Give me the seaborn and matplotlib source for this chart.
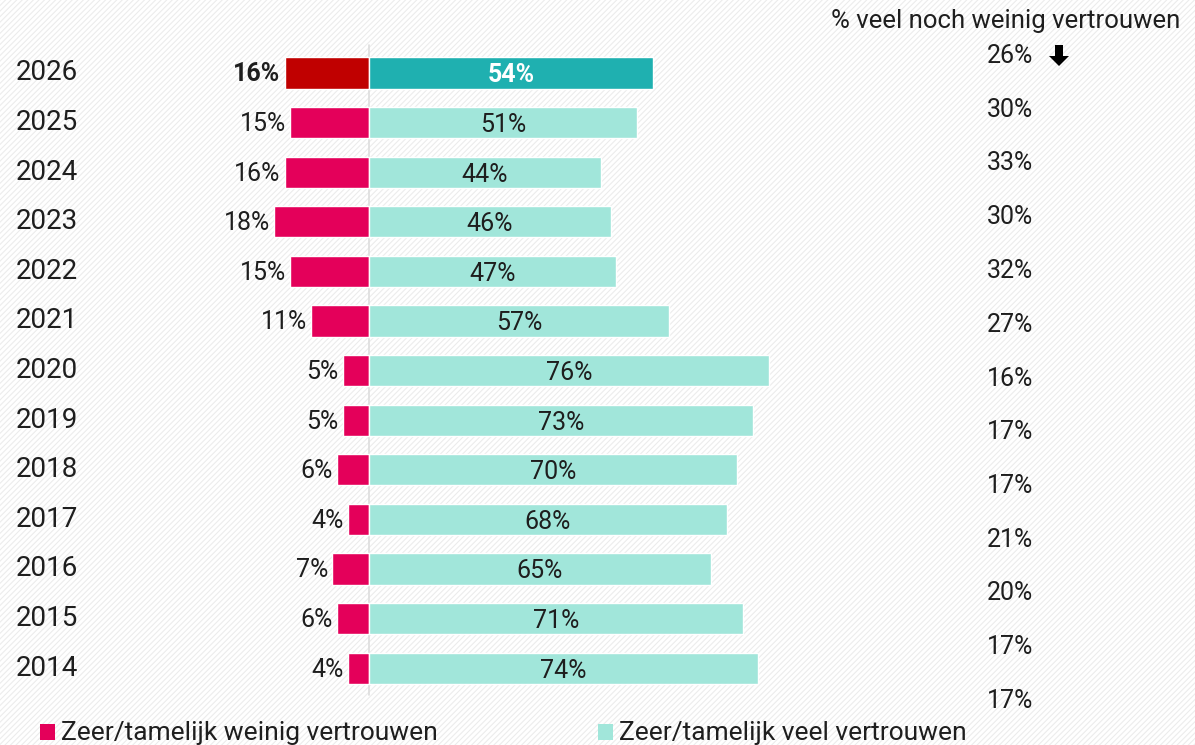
import matplotlib
matplotlib.use("Agg")
import matplotlib.pyplot as plt
import seaborn as sns
import pandas as pd
from matplotlib.patches import Rectangle, FancyArrow

# data
years = ["2026", "2025", "2024", "2023", "2022", "2021", "2020",
         "2019", "2018", "2017", "2016", "2015", "2014"]
weinig = [16, 15, 16, 18, 15, 11, 5, 5, 6, 4, 7, 6, 4]        # zeer/tamelijk weinig vertrouwen
veel = [54, 51, 44, 46, 47, 57, 76, 73, 70, 68, 65, 71, 74]     # zeer/tamelijk veel vertrouwen
neutraal = [26, 30, 33, 30, 32, 27, 16, 17, 17, 21, 20, 17, 17]  # veel noch weinig

RED, RED_HI = "#e4005a", "#c00000"
TEAL, TEAL_HI = "#a1e6da", "#1fb0b0"
TXT = "#1e1e1e"

sns.set_theme(style="white")
plt.rcParams["font.family"] = ["Roboto", "DejaVu Sans"]

df = pd.DataFrame({"year": years, "weinig": weinig, "veel": veel, "neutraal": neutraal})
df["neg"] = -df["weinig"]

W, H = 1195, 745
fig = plt.figure(figsize=(W / 100, H / 100), dpi=100)
fig.patch.set_facecolor("white")
# light diagonal hatch on the background
plt.rcParams["hatch.linewidth"] = 0.8
fig.patches.append(Rectangle((0, 0), 1, 1, transform=fig.transFigure, facecolor="white",
                             edgecolor="#ececec", hatch="//////", linewidth=0, zorder=-10))

ax = fig.add_axes([0, 0, 1, 1])
ax.patch.set_alpha(0)

px_per = 5.263   # pixels per percentage point
x0 = 369         # pixel of zero line
row0, row_h = 73, 49.6
ax.set_xlim(-x0 / px_per, (W - x0) / px_per)

red_pal = [RED_HI] + [RED] * (len(years) - 1)
teal_pal = [TEAL_HI] + [TEAL] * (len(years) - 1)
sns.barplot(data=df, x="neg", y="year", hue="year", palette=red_pal, orient="h",
            width=0.63, legend=False, ax=ax, saturation=1)
sns.barplot(data=df, x="veel", y="year", hue="year", palette=teal_pal, orient="h",
            width=0.63, legend=False, ax=ax, saturation=1)
ax.set_ylim((H - row0) / row_h, -row0 / row_h)

ax.axvline(0, ymin=1 - 695 / H, ymax=1 - 45 / H, color="#dddddd", lw=1.2, zorder=0)

for i, (y, w, v) in enumerate(zip(years, weinig, veel)):
    bold = i == 0
    ax.text(-w - 0.8, i + 0.03, f"{w}%", ha="right", va="center", fontsize=18,
            color=TXT, fontweight="bold" if bold else "normal")
    ax.text(v / 2, i + 0.05, f"{v}%", ha="center", va="center", fontsize=18,
            color="white" if bold else TXT, fontweight="bold" if bold else "normal")
    ax.text((47 - x0) / px_per, i, y, ha="center", va="center", fontsize=20, color=TXT)

# right-hand column: % veel noch weinig
fig.text(1180 / W, 1 - 21 / H, "% veel noch weinig vertrouwen", ha="right", va="center",
         fontsize=18.5, color=TXT)
for i, n in enumerate(neutraal):
    yp = 56 + 53.75 * i
    fig.text(1010 / W, 1 - yp / H, f"{n}%", ha="center", va="center", fontsize=18, color=TXT)
# downward arrow next to the latest value
fig.patches.append(FancyArrow(10.59, (H - 45) / 100, 0, -0.21, width=0.08, head_width=0.2,
                              head_length=0.1, length_includes_head=True,
                              transform=fig.dpi_scale_trans, color="black", linewidth=0))

ax.set_xticks([])
ax.set_yticks([])
ax.set_xlabel("")
ax.set_ylabel("")
for s in ax.spines.values():
    s.set_visible(False)

# legend
for xl, col, lab in [(40, RED, "Zeer/tamelijk weinig vertrouwen"),
                     (598, TEAL, "Zeer/tamelijk veel vertrouwen")]:
    fig.patches.append(Rectangle((xl / W, 1 - 740 / H), 15 / W, 16 / H,
                                 transform=fig.transFigure, facecolor=col, linewidth=0))
    fig.text((xl + 21) / W, 1 - 733 / H, lab, ha="left", va="center", fontsize=19, color=TXT)

fig.savefig("out.png", dpi=100)
